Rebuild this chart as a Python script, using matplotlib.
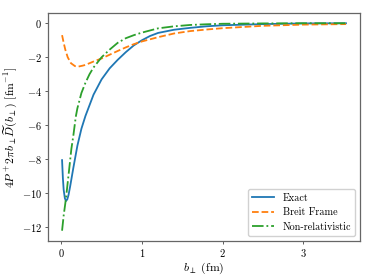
import matplotlib
matplotlib.use('Agg')
import matplotlib.pyplot as plt
from matplotlib.ticker import FuncFormatter

plt.rcParams['font.family'] = 'serif'
plt.rcParams['font.serif'] = ['cmr10', 'DejaVu Serif']
plt.rcParams['mathtext.fontset'] = 'cm'
plt.rcParams['axes.formatter.use_mathtext'] = True

# ---- data ----
b_exact = [0.01, 0.02, 0.03, 0.045, 0.06, 0.075, 0.09, 0.11, 0.15, 0.2, 0.25,
           0.3, 0.4, 0.5, 0.6, 0.7, 0.8, 0.9, 1.0, 1.1, 1.2, 1.4, 1.6, 1.8,
           2.0, 2.5, 3.0, 3.53]
d_exact = [-8.05, -9.1, -9.8, -10.3, -10.45, -10.35, -10.1, -9.6, -8.5, -7.2,
           -6.2, -5.45, -4.2, -3.3, -2.65, -2.15, -1.7, -1.3, -1.0, -0.75,
           -0.57, -0.38, -0.27, -0.18, -0.12, -0.05, -0.01, 0.0]

b_breit = [0.01, 0.03, 0.05, 0.08, 0.12, 0.17, 0.21, 0.26, 0.3, 0.4, 0.5,
           0.6, 0.7, 0.8, 0.9, 1.0, 1.2, 1.4, 1.6, 1.8, 2.0, 2.5, 3.0, 3.53]
d_breit = [-0.7, -1.15, -1.55, -2.0, -2.35, -2.52, -2.55, -2.5, -2.45, -2.25,
           -2.07, -1.85, -1.63, -1.42, -1.23, -1.07, -0.82, -0.6, -0.46, -0.37,
           -0.29, -0.15, -0.08, -0.05]

b_nonrel = [0.01, 0.03, 0.05, 0.07, 0.1, 0.125, 0.15, 0.18, 0.2, 0.25, 0.3,
            0.35, 0.4, 0.5, 0.6, 0.7, 0.8, 0.9, 1.0, 1.2, 1.4, 1.6, 1.8, 2.0,
            2.5, 3.0, 3.53]
d_nonrel = [-12.2, -11.3, -10.6, -9.8, -8.5, -7.4, -6.6, -5.5, -5.0, -4.1,
            -3.5, -3.0, -2.6, -2.0, -1.55, -1.15, -0.88, -0.7, -0.55, -0.3,
            -0.18, -0.1, -0.06, -0.03, -0.01, 0.0, 0.0]

fig = plt.figure(figsize=(3.74, 2.8), dpi=100)
ax = fig.add_axes([0.128, 0.139, 0.835, 0.815])

ax.plot(b_exact, d_exact, color='tab:blue', lw=1.3, label='Exact')
ax.plot(b_breit, d_breit, color='tab:orange', lw=1.3, ls='--', label='Breit Frame')
ax.plot(b_nonrel, d_nonrel, color='tab:green', lw=1.3, ls='-.', label='Non-relativistic')

ax.set_xticks([0, 1, 2, 3])
ax.set_yticks([0, -2, -4, -6, -8, -10, -12])
fmt = FuncFormatter(lambda v, p: f'${v:.0f}$')
ax.xaxis.set_major_formatter(fmt)
ax.yaxis.set_major_formatter(fmt)
ax.tick_params(labelsize=7.5, length=2.5, width=0.6, color='#444444', pad=2)
for s in ax.spines.values():
    s.set_color('#666666')
    s.set_linewidth(0.9)

ax.set_xlabel(r'$b_\perp\ (\mathrm{fm})$', fontsize=8.5, labelpad=1)
ax.set_ylabel(r'$4P^+ 2\pi b_\perp \widetilde{D}(b_\perp)\ [\mathrm{fm}^{-1}]$',
              fontsize=8.5, labelpad=2)

ax.legend(loc='lower right', fontsize=7.3, handlelength=2.2, framealpha=0.9)

fig.savefig('out.png', dpi=100)
